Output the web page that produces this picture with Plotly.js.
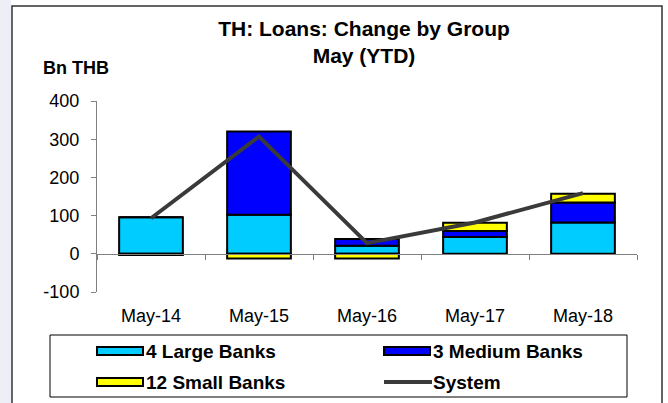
<!DOCTYPE html>
<html>
<head>
<meta charset="utf-8">
<script src="https://cdn.plot.ly/plotly-3.0.1.min.js"></script>
<style>
  html, body { margin: 0; padding: 0; background: #fff; }
  #chart { width: 668px; height: 403px; }
</style>
</head>
<body>
<div id="chart"></div>
<script>
// TH loans: change by bank group, YTD to May (Bn THB)

const categories = ['May-14', 'May-15', 'May-16', 'May-17', 'May-18'];
const largeBanks = [96, 102, 21, 44, 82];
const mediumBanks = [-3, 218, 18, 16, 52];
const smallBanks = [0, -12, -12, 21, 23];
const systemTotal = [93, 307, 28, 82, 159];
const yTicks = [-100, 0, 100, 200, 300, 400];

const seriesNames = ['4 Large Banks', '3 Medium Banks', '12 Small Banks', 'System'];
const seriesColors = ['#00CCFF', '#0000FF', '#FFFF00', '#3a3a3a'];

const FONT = 'Liberation Sans, Arial, sans-serif';

// plot frame in pixels (668 x 403 page)
const W = 668, H = 403;
const L = 97, R = 637, T = 101, B = 292;

// pixel -> paper helpers for the frame decorations
const px = x => (x - L) / (R - L);
const py = y => (B - y) / (B - T);

const barLine = { color: '#000', width: 2 };

const traces = [
    {
        type: 'bar', x: categories, y: largeBanks, name: seriesNames[0],
        marker: { color: seriesColors[0], line: barLine }, width: 0.59,
    },
    {
        type: 'bar', x: categories, y: mediumBanks, name: seriesNames[1],
        marker: { color: seriesColors[1], line: barLine }, width: 0.59,
    },
    {
        type: 'bar', x: categories, y: smallBanks, name: seriesNames[2],
        marker: { color: seriesColors[2], line: barLine }, width: 0.59,
    },
    {
        // numeric positions on the overlay axis line up with the categories
        type: 'scatter', mode: 'lines', xaxis: 'x2', yaxis: 'y',
        x: categories.map((_, i) => i), y: systemTotal, name: seriesNames[3],
        line: { color: seriesColors[3], width: 4 },
    },
];

// hand-built legend: flat swatches like the original
const shapes = [
    // lavender strip left of the frame
    { type: 'rect', xref: 'paper', yref: 'paper', layer: 'below',
      x0: px(0), x1: px(11), y0: py(0), y1: py(H + 5),
      fillcolor: '#EEEEF7', line: { width: 0 } },
    // outer frame
    { type: 'rect', xref: 'paper', yref: 'paper',
      x0: px(12), x1: px(662), y0: py(6), y1: py(H + 10),
      line: { color: '#333', width: 1.5 } },
    // legend box
    { type: 'rect', xref: 'paper', yref: 'paper',
      x0: px(50), x1: px(627), y0: py(335), y1: py(397),
      line: { color: '#000', width: 1 } },
];
const annotations = [
    { text: '<b>Bn THB</b>', xref: 'paper', yref: 'paper', x: px(41), y: py(68),
      xanchor: 'left', yanchor: 'middle', showarrow: false,
      font: { family: FONT, size: 18, color: '#000' } },
];

const legendSlots = [
    { x: 97, y: 351 }, { x: 384, y: 351 },
    { x: 97, y: 382 }, { x: 384, y: 382 },
];
seriesNames.forEach((name, i) => {
    const s = legendSlots[i];
    if (i < 3) {
        shapes.push({ type: 'rect', xref: 'paper', yref: 'paper',
            x0: px(s.x), x1: px(s.x + 46), y0: py(s.y + 4), y1: py(s.y - 4),
            fillcolor: seriesColors[i], line: { color: '#000', width: 2 } });
    } else {
        shapes.push({ type: 'line', xref: 'paper', yref: 'paper',
            x0: px(s.x), x1: px(s.x + 48), y0: py(s.y), y1: py(s.y),
            line: { color: seriesColors[i], width: 4 } });
    }
    annotations.push({ text: '<b>' + name + '</b>', xref: 'paper', yref: 'paper',
        x: px(s.x + 47), y: py(s.y), xanchor: 'left', yanchor: 'middle',
        showarrow: false, font: { family: FONT, size: 19, color: '#000' } });
});

const layout = {
    width: W,
    height: H,
    margin: { l: L, r: W - R, t: T, b: H - B, pad: 0 },
    paper_bgcolor: '#fff',
    plot_bgcolor: 'rgba(0,0,0,0)',
    font: { family: FONT, size: 18, color: '#000' },
    showlegend: false,
    barmode: 'relative',
    title: {
        text: '<b>TH: Loans: Change by Group<br>May (YTD)</b>',
        x: 364 / W, xanchor: 'center',
        y: 1 - 36 / H, yanchor: 'top',
        font: { family: FONT, size: 21, color: '#000' },
    },
    xaxis: {
        type: 'category',
        showline: false, showgrid: false, zeroline: false,
        ticks: 'outside', ticklen: 7, tickcolor: 'rgba(0,0,0,0)',
        tickfont: { size: 18 },
        fixedrange: true,
    },
    xaxis2: {
        overlaying: 'x', anchor: 'free', position: 0.2,
        range: [-0.5, categories.length - 0.5],
        tickmode: 'array', tickvals: categories.map((_, i) => i - 0.5).concat([categories.length - 0.5]),
        ticks: 'outside', ticklen: 5, tickcolor: '#808080', tickwidth: 1,
        showline: true, linecolor: '#808080', linewidth: 1,
        showticklabels: false, showgrid: false, zeroline: false,
        fixedrange: true,
    },
    yaxis: {
        range: [-100, 400],
        tickmode: 'array', tickvals: yTicks, ticktext: yTicks.map(String),
        ticks: 'outside', ticklen: 5, tickcolor: '#808080', tickwidth: 1,
        showline: true, linecolor: '#808080', linewidth: 1,
        showgrid: false, zeroline: false,
        ticklabelstandoff: 8,
        tickfont: { size: 18 },
        fixedrange: true,
    },
    shapes: shapes,
    annotations: annotations,
};

Plotly.newPlot('chart', traces, layout, { displayModeBar: false, staticPlot: true });
</script>
</body>
</html>
